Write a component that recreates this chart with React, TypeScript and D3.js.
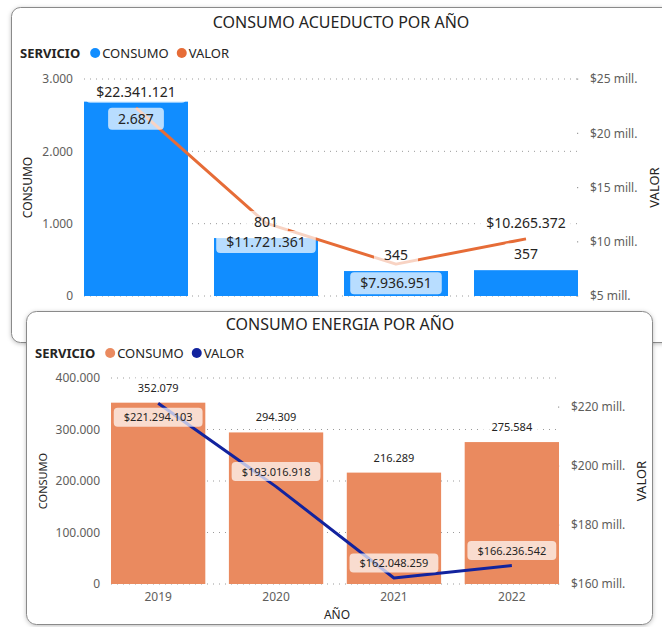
import React from 'react';
import * as d3 from 'd3';

// ---------- DATA ----------
const years = ['2019', '2020', '2021', '2022'];
const acueductoConsumo = [2687, 801, 345, 357];
const acueductoValor = [22341121, 11721361, 7936951, 10265372];
const energiaConsumo = [352079, 294309, 216289, 275584];
const energiaValor = [221294103, 193016918, 162048259, 166236542];
const acueductoLeftTicks = [0, 1000, 2000, 3000];
const acueductoRightTicks = [5e6, 10e6, 15e6, 20e6, 25e6];
const energiaLeftTicks = [0, 100000, 200000, 300000, 400000];
const energiaRightTicks = [160e6, 180e6, 200e6, 220e6];

const FONT = "'Segoe UI', 'Noto Sans', sans-serif";
const locale = d3.formatLocale({ decimal: ',', thousands: '.', grouping: [3], currency: ['$', ''] });
const fmtNum = locale.format(',.0f');
const fmtCur = locale.format('$,.0f');
const fmtMill = (v: number) => `$${v / 1e6} mill.`;

let ctx: CanvasRenderingContext2D | null = null;
function textWidth(t: string, font: string) {
  if (!ctx) ctx = document.createElement('canvas').getContext('2d');
  if (!ctx) return t.length * 7;
  ctx.font = font;
  return ctx.measureText(t).width;
}

function DataLabel({ x, cy, text, size }: { x: number; cy: number; text: string; size: number }) {
  const w = textWidth(text, `${size}px ${FONT}`) + 20;
  const h = size + 8;
  return (
    <g>
      <rect x={x - w / 2} y={cy - h / 2} width={w} height={h} rx={4} fill="#fff" fillOpacity={0.7} />
      <text x={x} y={cy} dy="0.36em" textAnchor="middle" fontSize={size} fill="#252423" fontFamily={FONT}>
        {text}
      </text>
    </g>
  );
}

function Legend({ x, y, items }: { x: number; y: number; items: { label: string; color: string }[] }) {
  const fs = 13;
  let cur = x + textWidth('SERVICIO', `bold ${fs}px ${FONT}`);
  const parts: React.ReactNode[] = [];
  items.forEach((it, i) => {
    const cx = cur + (i === 0 ? 15 : 13);
    const tx = cx + 7;
    parts.push(<circle key={'c' + i} cx={cx} cy={y} r={5} fill={it.color} />);
    parts.push(
      <text key={'t' + i} x={tx} y={y} dy="0.36em" fontSize={fs} fill="#252423" fontFamily={FONT}>
        {it.label}
      </text>
    );
    cur = tx + textWidth(it.label, `${fs}px ${FONT}`);
  });
  return (
    <g>
      <text x={x} y={y} dy="0.36em" fontSize={fs} fontWeight="bold" fill="#252423" fontFamily={FONT}>
        SERVICIO
      </text>
      {parts}
    </g>
  );
}

type ChartProps = {
  title: string;
  titleX: number;
  titleY: number;
  legendX: number;
  legendY: number;
  barColor: string;
  lineColor: string;
  xRange: [number, number];
  yBottom: number;
  yTop: number;
  leftDomain: [number, number];
  rightDomain: [number, number];
  rightTop: number;
  consumo: number[];
  valor: number[];
  leftTicks: number[];
  rightTicks: number[];
  labelSize: number;
  barPlace: string[];
  linePlace: string[];
  aboveOff: number;
  belowOff: number;
  insideOff: number;
  leftTitleX: number;
  rightTitleX: number;
  leftTitleSize: number;
  showXAxis: boolean;
};

function ComboChart(p: ChartProps) {
  const x = d3.scaleBand<string>().domain(years).range(p.xRange).paddingInner(0.2).paddingOuter(0);
  const yL = d3.scaleLinear().domain(p.leftDomain).range([p.yBottom, p.yTop]);
  const yR = d3.scaleLinear().domain(p.rightDomain).range([p.yBottom, p.rightTop]);
  const bw = x.bandwidth();
  const cx = (d: string) => (x(d) as number) + bw / 2;
  const line = d3
    .line<number>()
    .x((_, i) => cx(years[i]))
    .y((v) => yR(v));
  const [x0, x1] = p.xRange;
  const midY = (p.yBottom + p.yTop) / 2;
  return (
    <g>
      <text x={p.titleX} y={p.titleY} textAnchor="middle" fontSize={16} fill="#252423" fontFamily={FONT}>
        {p.title}
      </text>
      <Legend
        x={p.legendX}
        y={p.legendY}
        items={[
          { label: 'CONSUMO', color: p.barColor },
          { label: 'VALOR', color: p.lineColor },
        ]}
      />
      {/* gridlines + left ticks */}
      {p.leftTicks.map((t) => (
        <g key={'l' + t}>
          <line x1={x0} x2={x1} y1={yL(t)} y2={yL(t)} stroke="#9a9a9a" strokeWidth={1} strokeDasharray="1,5" />
          <text x={x0 - 11} y={yL(t)} dy="0.36em" textAnchor="end" fontSize={12} fill="#605E5C" fontFamily={FONT}>
            {fmtNum(t)}
          </text>
        </g>
      ))}
      {p.rightTicks.map((t) => (
        <g key={'r' + t}>
          <rect x={x1 - 1} y={yR(t) - 0.5} width={1.2} height={1.2} fill="#9a9a9a" />
          <text x={x1 + 12} y={yR(t)} dy="0.36em" fontSize={12} fill="#605E5C" fontFamily={FONT}>
            {fmtMill(t)}
          </text>
        </g>
      ))}
      <text
        transform={`translate(${p.leftTitleX},${midY}) rotate(-90)`}
        textAnchor="middle"
        dy="0.36em"
        fontSize={p.leftTitleSize}
        fill="#252423"
        fontFamily={FONT}
      >
        CONSUMO
      </text>
      <text
        transform={`translate(${p.rightTitleX},${midY}) rotate(-90)`}
        textAnchor="middle"
        dy="0.36em"
        fontSize={13}
        fill="#252423"
        fontFamily={FONT}
      >
        VALOR
      </text>
      {/* bars */}
      {years.map((yr, i) => (
        <rect
          key={'b' + yr}
          x={x(yr)}
          y={yL(p.consumo[i])}
          width={bw}
          height={p.yBottom - yL(p.consumo[i])}
          fill={p.barColor}
        />
      ))}
      {/* line */}
      <path d={line(p.valor) || ''} fill="none" stroke={p.lineColor} strokeWidth={3} strokeLinejoin="round" />
      {/* x axis */}
      {p.showXAxis && (
        <g>
          {years.map((yr) => (
            <text key={'x' + yr} x={cx(yr)} y={p.yBottom + 13} dy="0.36em" textAnchor="middle" fontSize={12} fill="#605E5C" fontFamily={FONT}>
              {yr}
            </text>
          ))}
          <text x={(x0 + x1) / 2 + 2} y={p.yBottom + 31} dy="0.36em" textAnchor="middle" fontSize={12} fill="#252423" fontFamily={FONT}>
            AÑO
          </text>
        </g>
      )}
      {/* data labels */}
      {years.map((yr, i) => {
        const top = yL(p.consumo[i]);
        const cy = p.barPlace[i] === 'inside' ? top + p.insideOff : top - p.aboveOff;
        return <DataLabel key={'bl' + yr} x={cx(yr)} cy={cy} text={fmtNum(p.consumo[i])} size={p.labelSize} />;
      })}
      {years.map((yr, i) => {
        const py = yR(p.valor[i]);
        const cy = p.linePlace[i] === 'below' ? py + p.belowOff : py - p.aboveOff;
        return <DataLabel key={'vl' + yr} x={cx(yr)} cy={cy} text={fmtCur(p.valor[i])} size={p.labelSize} />;
      })}
    </g>
  );
}

export default function App() {
  return (
    <svg
      width={662}
      height={627}
      style={{ position: 'absolute', left: 0, top: 0, background: '#fff' }}
      fontFamily={FONT}
    >
      <defs>
        <filter id="shadow" x="-10%" y="-10%" width="120%" height="120%">
          <feDropShadow dx="0" dy="1" stdDeviation="2" floodColor="#000" floodOpacity="0.25" />
        </filter>
      </defs>
      {/* top card */}
      <rect x={11.5} y={7.5} width={720} height={335} rx={9} fill="#fff" stroke="#8a8a8a" filter="url(#shadow)" />
      <ComboChart
        title="CONSUMO ACUEDUCTO POR AÑO"
        titleX={341}
        titleY={28}
        legendX={20}
        legendY={53}
        barColor="#118DFF"
        lineColor="#E66C37"
        xRange={[84, 578]}
        yBottom={296}
        yTop={79}
        leftDomain={[0, 3000]}
        rightDomain={[5e6, 25e6]}
        rightTop={79}
        consumo={acueductoConsumo}
        valor={acueductoValor}
        leftTicks={acueductoLeftTicks}
        rightTicks={acueductoRightTicks}
        labelSize={14}
        barPlace={['inside', 'above', 'above', 'above']}
        linePlace={['above', 'below', 'below', 'above']}
        aboveOff={16}
        belowOff={19}
        insideOff={17}
        leftTitleX={28}
        rightTitleX={654}
        leftTitleSize={12}
        showXAxis={false}
      />
      {/* bottom card */}
      <rect x={26.5} y={311.5} width={626} height={313} rx={10} fill="#fff" stroke="#8a8a8a" filter="url(#shadow)" />
      <ComboChart
        title="CONSUMO ENERGIA POR AÑO"
        titleX={340}
        titleY={330}
        legendX={35}
        legendY={353}
        barColor="#EA8A5F"
        lineColor="#12239E"
        xRange={[111, 559]}
        yBottom={584}
        yTop={378}
        leftDomain={[0, 400000]}
        rightDomain={[160e6, 220e6]}
        rightTop={407}
        consumo={energiaConsumo}
        valor={energiaValor}
        leftTicks={energiaLeftTicks}
        rightTicks={energiaRightTicks}
        labelSize={11}
        barPlace={['above', 'above', 'above', 'above']}
        linePlace={['below', 'above', 'above', 'above']}
        aboveOff={15}
        belowOff={14}
        insideOff={15}
        leftTitleX={43}
        rightTitleX={641}
        leftTitleSize={11}
        showXAxis={true}
      />
    </svg>
  );
}
